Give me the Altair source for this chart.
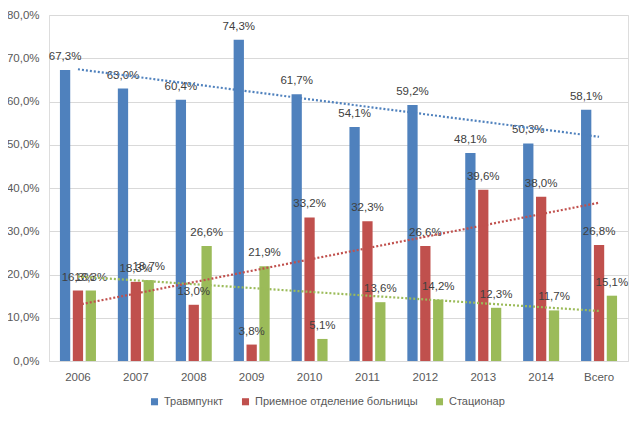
import altair as alt
import pandas as pd

categories = ["2006", "2007", "2008", "2009", "2010", "2011", "2012", "2013", "2014", "Всего"]
series_names = ["Травмпункт", "Приемное отделение больницы", "Стационар"]
colors = ["#4f81bd", "#c0504d", "#9bbb59"]
travm = [67.3, 63.0, 60.4, 74.3, 61.7, 54.1, 59.2, 48.1, 50.3, 58.1]
priem = [16.3, 18.3, 13.0, 3.8, 33.2, 32.3, 26.6, 39.6, 38.0, 26.8]
stac = [16.3, 18.7, 26.6, 21.9, 5.1, 13.6, 14.2, 12.3, 11.7, 15.1]

rows = []
for s, vals in zip(series_names, [travm, priem, stac]):
    for i, (c, v) in enumerate(zip(categories, vals)):
        rows.append({"cat": c, "idx": i + 1, "series": s, "v": v})
df = pd.DataFrame(rows)

FONT = "Liberation Sans"
W, H = 579, 346

base = alt.Chart(df)

xenc = alt.X("cat:N", sort=categories, scale=alt.Scale(paddingInner=0, paddingOuter=0),
             axis=alt.Axis(title=None, labelAngle=0, ticks=False, domainColor="#d9d9d9",
                           labelColor="#595959", labelFontSize=11.5, labelFont=FONT,
                           labelPadding=10, grid=False))
yscale = alt.Scale(domain=[0, 80], nice=False, zero=True)
yenc = alt.Y("v:Q", scale=yscale,
             axis=alt.Axis(title=None, values=[0, 10, 20, 30, 40, 50, 60, 70, 80],
                           labelExpr="replace(format(datum.value, '.1f'), '.', ',') + '%'",
                           ticks=False, domain=False, gridColor="#d9d9d9",
                           labelColor="#595959", labelFontSize=11.5, labelFont=FONT,
                           labelPadding=10))
xoff = alt.XOffset("series:N", sort=series_names,
                   scale=alt.Scale(domain=series_names, paddingInner=0.2, paddingOuter=0.85))

bars = base.mark_bar().encode(
    x=xenc, y=yenc, xOffset=xoff,
    color=alt.Color("series:N", scale=alt.Scale(domain=series_names, range=colors),
                    legend=alt.Legend(title=None, orient="none", direction="horizontal",
                                      legendX=100, legendY=381, symbolType="square",
                                      symbolSize=50, symbolStrokeWidth=0,
                                      labelFontSize=11, labelFont=FONT, labelColor="#595959",
                                      columnPadding=16, labelOffset=4, labelLimit=400)),
)

labels = base.transform_calculate(
    lab="replace(format(datum.v, '.1f'), '.', ',') + '%'"
).mark_text(baseline="middle", dy=-13, fontSize=11.5, font=FONT, color="#404040").encode(
    x=xenc, y=yenc, xOffset=xoff, text="lab:N"
)

trend = base.transform_regression(
    "idx", "v", groupby=["series"], method="linear", extent=[1, 10]
).transform_calculate(
    xp="datum.idx - 0.5"
).mark_line(strokeDash=[2, 2], strokeWidth=2.2).encode(
    x=alt.X("xp:Q", scale=alt.Scale(domain=[0, 10], nice=False, zero=False), axis=None),
    y=alt.Y("v:Q", scale=yscale),
    stroke=alt.Stroke("series:N", scale=alt.Scale(domain=series_names, range=colors), legend=None),
    detail="series:N",
)

chart = alt.layer(alt.layer(bars, labels), trend).resolve_scale(x="independent").properties(
    width=W, height=H,
    autosize=alt.AutoSizeParams(type="none"),
    padding={"left": 41, "top": 7, "right": 7, "bottom": 55},
).configure_view(stroke=None).configure(background="white")

chart.save("out.html", embed_options={"renderer": "svg", "actions": False})
